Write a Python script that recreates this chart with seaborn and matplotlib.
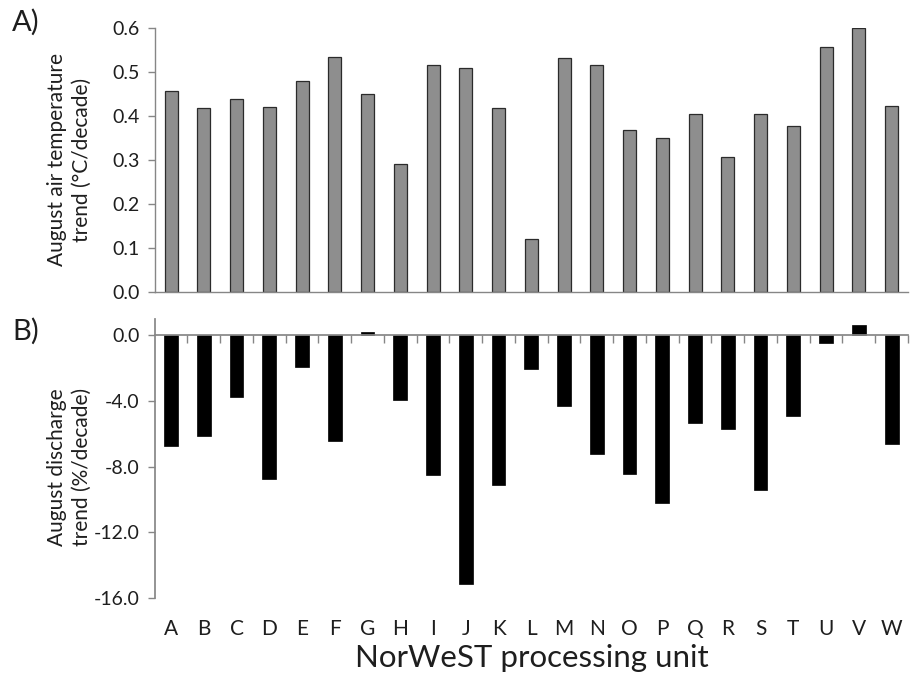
import matplotlib
matplotlib.use("Agg")
import matplotlib.pyplot as plt
import matplotlib.ticker as mticker
import seaborn as sns
import pandas as pd
import numpy as np

units = list("ABCDEFGHIJKLMNOPQRSTUVW")
air_temp_trend = [0.457, 0.418, 0.439, 0.420, 0.479, 0.535, 0.449, 0.291, 0.517,
                  0.510, 0.418, 0.120, 0.532, 0.516, 0.369, 0.351, 0.405, 0.307,
                  0.405, 0.378, 0.556, 0.599, 0.423]
discharge_trend = [-6.74, -6.13, -3.74, -8.73, -1.93, -6.42, 0.20, -3.92, -8.53,
                   -15.13, -9.14, -2.03, -4.32, -7.25, -8.45, -10.23, -5.34, -5.71,
                   -9.44, -4.93, -0.47, 0.61, -6.64]
temp_ticks = [0.0, 0.1, 0.2, 0.3, 0.4, 0.5, 0.6]
discharge_ticks = [0.0, -4.0, -8.0, -12.0, -16.0]

df = pd.DataFrame({"unit": units, "temp": air_temp_trend, "q": discharge_trend})

sns.set_theme(style="white")
plt.rcParams["font.family"] = ["Lato", "DejaVu Sans"]
plt.rcParams["axes.unicode_minus"] = False

W, H = 911, 679
fig = plt.figure(figsize=(W / 100, H / 100), dpi=100)
left = 154.7 / W
right = 908 / W
ax1 = fig.add_axes([left, 1 - 292 / H, right - left, (292 - 28) / H])
ax2 = fig.add_axes([left, 1 - 598 / H, right - left, (598 - 319) / H])

spine_col = "#868686"
text_col = "#1e1e1e"

# Panel A
sns.barplot(data=df, x="unit", y="temp", color="#8e8e8e", saturation=1,
            width=0.4, edgecolor="#2b2b2b", linewidth=0.9, ax=ax1)
ax1.set_xlim(-0.5, len(units) - 0.5)
ax1.set_ylim(0, 0.6)
ax1.set_yticks(temp_ticks)
ax1.yaxis.set_major_formatter(mticker.FormatStrFormatter("%.1f"))
ax1.set_xticks([])
ax1.set_xlabel("")
for s in ["top", "right"]:
    ax1.spines[s].set_visible(False)
for s in ["left", "bottom"]:
    ax1.spines[s].set_color(spine_col)
    ax1.spines[s].set_linewidth(1.0)
ax1.tick_params(axis="y", which="major", left=True, length=5, width=1.0,
                color=spine_col, labelsize=14, labelcolor=text_col, pad=6)
ax1.set_ylabel("August air temperature\ntrend (°C/decade)", fontsize=15,
               color=text_col, linespacing=1.3)
ax1.yaxis.set_label_coords(-0.083, 0.5)

# Panel B
sns.barplot(data=df, x="unit", y="q", color="black", saturation=1,
            width=0.42, edgecolor="black", linewidth=0.5, ax=ax2)
ax2.set_xlim(-0.5, len(units) - 0.5)
ax2.set_ylim(-16, 1.0)
ax2.set_yticks(discharge_ticks)
ax2.yaxis.set_major_formatter(mticker.FormatStrFormatter("%.1f"))
for s in ["top", "right"]:
    ax2.spines[s].set_visible(False)
ax2.spines["left"].set_color(spine_col)
ax2.spines["bottom"].set_color(spine_col)
ax2.spines["bottom"].set_position(("data", 0))
ax2.spines["left"].set_bounds(-16, 1.0)
ax2.xaxis.set_major_locator(mticker.FixedLocator(np.arange(len(units))))
ax2.xaxis.set_minor_locator(mticker.FixedLocator(np.arange(len(units)) + 0.5))
ax2.tick_params(axis="x", which="major", bottom=False, labelbottom=False)
ax2.tick_params(axis="x", which="minor", bottom=True, length=6, width=1.0,
                color=spine_col, direction="out")
ax2.tick_params(axis="y", which="major", left=True, length=5, width=1.0,
                color=spine_col, labelsize=14, labelcolor=text_col, pad=6)
ax2.set_xlabel("")
ax2.set_ylabel("August discharge\ntrend (%/decade)", fontsize=15,
               color=text_col, linespacing=1.3)
ax2.yaxis.set_label_coords(-0.083, 0.47)

sec = ax2.secondary_xaxis("bottom")
sec.set_xticks(np.arange(len(units)))
sec.set_xticklabels(units)
sec.spines["bottom"].set_visible(False)
sec.tick_params(axis="x", length=0, pad=15, labelsize=15, labelcolor=text_col)
sec.set_xlabel("NorWeST processing unit", fontsize=22.5, color=text_col, labelpad=4)

fig.text(12 / W, 1 - 22 / H, "A)", fontsize=21, color=text_col, va="center", ha="left")
fig.text(12 / W, 1 - 331 / H, "B)", fontsize=21, color=text_col, va="center", ha="left")

fig.savefig("out.png", dpi=100, facecolor="white")
